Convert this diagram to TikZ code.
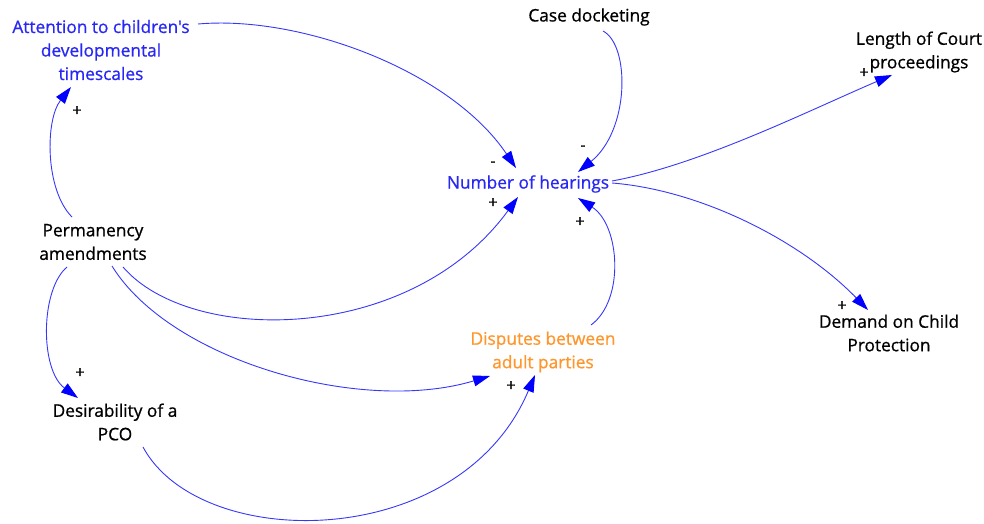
\documentclass[tikz,border=0pt]{standalone}
\usepackage{fontspec}
\setmainfont{Open Sans}[Ligatures=TeXOff, FakeBold=0.8]
\usetikzlibrary{arrows.meta}
\definecolor{varblue}{RGB}{40,40,245}
\definecolor{varorange}{RGB}{255,150,45}
\definecolor{linkblue}{RGB}{55,55,250}
\definecolor{tipblue}{RGB}{0,0,255}
\begin{document}
\begin{tikzpicture}[x=1pt,y=-1pt,
  var/.style={font=\fontsize{17.3}{23.5}\selectfont, align=center, inner sep=0pt},
  link/.style={draw=linkblue, line width=0.9pt,
    -{Triangle[length=17pt,width=11pt,color=tipblue,fill=tipblue]}},
  pol/.style={font=\fontsize{16}{16}\selectfont, inner sep=0pt}]
\useasboundingbox (0,0) rectangle (984,524);

% variables
\node[var, text=varblue] (att) at (101,50) {Attention to children's\\developmental\\timescales};
\node[var] (cd) at (589,17) {Case docketing};
\node[var] (lcp) at (919,52) {Length of Court\\proceedings};
\node[var, text=varblue] (nh) at (528,184) {Number of hearings};
\node[var] (pa) at (93,242) {Permanency\\amendments};
\node[var] (dcp) at (889,333) {Demand on Child\\Protection};
\node[var, text=varorange] (dis) at (543,352) {Disputes between\\adult parties};
\node[var] (pco) at (115,422) {Desirability of a\\PCO};

% causal links
\draw[link] ([shift={(97,-26)}]att.center) .. controls (300,15) and (450,70) .. ([shift={(-12,-16)}]nh.center);
\draw[link] ([shift={(14,14)}]cd.center) .. controls (630,45) and (630,130) .. ([shift={(50,-12)}]nh.center);
\draw[link] ([shift={(84,-3)}]nh.center) .. controls (700,165) and (810,110) .. ([shift={(-27,23)}]lcp.center);
\draw[link] ([shift={(84,-1)}]nh.center) .. controls (700,190) and (800,240) .. ([shift={(-21,-23)}]dcp.center);
\draw[link] ([shift={(-21,-25)}]pa.center) .. controls (45,190) and (45,120) .. ([shift={(-30,37)}]att.center);
\draw[link] ([shift={(30,25)}]pa.center) .. controls (190,345) and (410,345) .. ([shift={(-10,13)}]nh.center);
\draw[link] ([shift={(19,24)}]pa.center) .. controls (170,360) and (360,415) .. ([shift={(-53,24)}]dis.center);
\draw[link] ([shift={(-26,25)}]pa.center) .. controls (40,290) and (40,370) .. ([shift={(-37,-24)}]pco.center);
\draw[link] ([shift={(28,25)}]pco.center) .. controls (200,553) and (460,553) .. ([shift={(-8,23)}]dis.center);
\draw[link] ([shift={(48,-27)}]dis.center) .. controls (625,300) and (620,225) .. ([shift={(50,14)}]nh.center);

% link polarities
\node[pol] (p1) at (493,164) {-};
\node[pol] (p2) at (583,148) {-};
\node[pol] (p3) at (864,73) {+};
\node[pol] (p4) at (842,306) {+};
\node[pol] (p5) at (77,111) {+};
\node[pol] (p6) at (493,203) {+};
\node[pol] (p7) at (580,222) {+};
\node[pol] (p8) at (80,373) {+};
\node[pol] (p9) at (511,386) {+};
\end{tikzpicture}
\end{document}
